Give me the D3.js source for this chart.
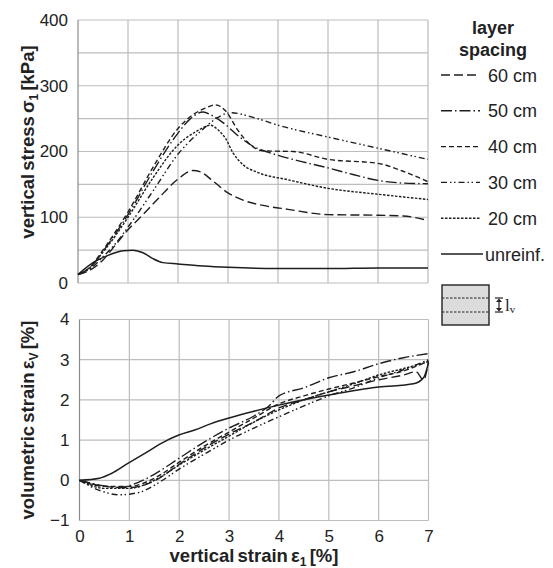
<!doctype html>
<html lang="en">
<head>
  <meta charset="utf-8">
  <title>vertical stress and volumetric strain</title>
  <script src="https://d3js.org/d3.v7.min.js"></script>
  <style>
    body { margin: 0; background: #fff; }
    text { font-family: "Liberation Sans", Arial, sans-serif; fill: #222; }
  </style>
</head>
<body>
<div id="chart"></div>
<script>
  // series names (legend order) and their dash styles
  var series = ['60 cm', '50 cm', '40 cm', '30 cm', '20 cm', 'unreinf.'];
  var dashes = ['9,4', '11,3,1.5,3', '5,3', '6,3,1.5,2.5,1.5,3', '2.5,1.5', null];

  // top panel: vertical strain [%] vs vertical stress [kPa]
  var stress_60 = [[0,13],[0.25,20],[0.5,35],[0.75,58],[1.0,81],[1.3,104],[1.6,128],[2.0,158],[2.3,171],[2.45,169],[2.7,155],[3.0,137],[3.3,126],[3.7,118],[4.2,112],[5,104],[6,103],[6.5,102],[7,95]];
  var stress_50 = [[0,13],[0.25,24],[0.5,48],[0.75,75],[1.0,104],[1.5,170],[2.0,228],[2.25,250],[2.5,260],[2.7,254],[2.9,244],[3.2,224],[3.5,208],[3.8,199],[4.3,188],[5,175],[5.5,165],[6,156],[6.5,152],[7,151]];
  var stress_40 = [[0,13],[0.25,25],[0.5,50],[0.75,78],[1.0,108],[1.5,176],[2.0,235],[2.3,256],[2.55,266],[2.75,271],[2.95,262],[3.2,232],[3.45,210],[3.7,201],[4.3,200],[5,188],[6,182],[6.5,170],[7,154]];
  var stress_30 = [[0,13],[0.25,22],[0.5,40],[0.75,60],[1.0,85],[1.5,140],[2.0,196],[2.5,234],[2.8,252],[3.05,259],[3.5,252],[4,240],[5,222],[6,205],[7,188]];
  var stress_20 = [[0,13],[0.25,24],[0.5,47],[0.75,72],[1.0,100],[1.5,160],[2.0,210],[2.4,232],[2.65,240],[2.8,233],[2.95,220],[3.1,198],[3.3,180],[3.6,168],[4.2,157],[5,144],[6,135],[7,127]];
  var stress_0 = [[0,13],[0.3,31],[0.6,42],[0.9,49],[1.1,50],[1.3,46],[1.5,37],[1.7,31],[2.0,29],[2.5,26],[3,24],[4,22],[5,22],[6,23],[7,23]];

  // bottom panel: vertical strain [%] vs volumetric strain [%]
  var vol_60 = [[0,0],[0.5,-0.15],[1,-0.18],[1.5,-0.02],[2,0.4],[2.5,0.8],[3,1.15],[3.5,1.45],[4,1.8],[4.5,2.0],[5,2.2],[5.5,2.35],[6,2.5],[6.5,2.62],[6.75,2.7],[6.9,2.5],[7,2.95]];
  var vol_50 = [[0,0],[0.5,-0.14],[0.8,-0.18],[1.2,-0.04],[1.5,0.15],[2,0.55],[2.5,0.95],[3,1.3],[3.5,1.6],[3.8,1.85],[4,2.1],[4.5,2.3],[5,2.55],[5.5,2.7],[6,2.9],[6.5,3.05],[7,3.15]];
  var vol_40 = [[0,0],[0.5,-0.15],[1,-0.15],[1.5,0.05],[2,0.45],[2.5,0.85],[3,1.2],[3.5,1.55],[4,1.9],[4.5,2.1],[5,2.27],[5.5,2.42],[6,2.58],[6.5,2.72],[7,2.97]];
  var vol_30 = [[0,0],[0.4,-0.25],[0.8,-0.36],[1.2,-0.3],[1.6,-0.05],[2,0.28],[2.5,0.65],[3,1.0],[3.5,1.3],[4,1.58],[4.5,1.85],[5,2.1],[5.5,2.3],[6,2.55],[6.5,2.75],[7,3.0]];
  var vol_20 = [[0,0],[0.5,-0.2],[1,-0.2],[1.5,0],[2,0.38],[2.5,0.75],[3,1.1],[3.5,1.45],[4,1.75],[4.5,2.0],[5,2.2],[5.5,2.4],[6,2.62],[6.5,2.78],[7,2.95]];
  var vol_0 = [[0,0],[0.4,0.05],[0.64,0.17],[0.97,0.42],[1.31,0.67],[1.64,0.92],[1.98,1.12],[2.31,1.25],[2.64,1.41],[3,1.55],[3.5,1.72],[4,1.87],[5,2.12],[6,2.32],[6.7,2.4],[6.9,2.55],[7,2.92]];

  var stress_data = [stress_60, stress_50, stress_40, stress_30, stress_20, stress_0];
  var vol_data = [vol_60, vol_50, vol_40, vol_30, vol_20, vol_0];

  var stress_ticks = [0, 100, 200, 300, 400];
  var stress_grid = [50, 100, 150, 200, 250, 300, 350, 400];
  var vol_ticks = [-1, 0, 1, 2, 3, 4];
  var strain_ticks = [0, 1, 2, 3, 4, 5, 6, 7];

  var width = 553, height = 568;
  var svg = d3.select('#chart').append('svg')
    .attr('width', width)
    .attr('height', height);

  var x_top = d3.scaleLinear().domain([0, 7]).range([78, 428]);
  var y_top = d3.scaleLinear().domain([0, 400]).range([283, 20]);
  var x_bot = d3.scaleLinear().domain([0, 7]).range([79.5, 428.5]);
  var y_bot = d3.scaleLinear().domain([-1, 4]).range([520.5, 319.5]);

  function draw_panel(x, y, grid_y, ticks_y, data, show_x_labels) {
    var g = svg.append('g');
    // grid
    g.selectAll('.gy').data(grid_y.concat([y.domain()[0]])).enter().append('line')
      .attr('x1', x.range()[0]).attr('x2', x.range()[1])
      .attr('y1', d => y(d)).attr('y2', d => y(d))
      .attr('stroke', '#bdbdbd').attr('stroke-width', 1.2);
    g.selectAll('.gx').data(strain_ticks).enter().append('line')
      .attr('x1', d => x(d)).attr('x2', d => x(d))
      .attr('y1', y.range()[0]).attr('y2', y.range()[1])
      .attr('stroke', d => d == 0 ? '#8c8c8c' : '#bdbdbd').attr('stroke-width', 1.2);

    // tick labels
    var ay = g.append('g')
      .attr('transform', 'translate(' + (x.range()[0] - 7) + ',0)')
      .call(d3.axisLeft(y).tickValues(ticks_y).tickSize(0).tickFormat(d3.format('d')));
    ay.select('.domain').remove();
    ay.selectAll('text').style('font-size', '17px').attr('fill', '#222')
      .attr('font-family', '"Liberation Sans", Arial, sans-serif');

    if (show_x_labels) {
      var ax = g.append('g')
        .attr('transform', 'translate(0,' + (y.range()[0] + 6) + ')')
        .call(d3.axisBottom(x).tickValues(strain_ticks).tickSize(0).tickFormat(d3.format('d')));
      ax.select('.domain').remove();
      ax.selectAll('text').style('font-size', '17px').attr('fill', '#222')
        .attr('font-family', '"Liberation Sans", Arial, sans-serif');
    }

    var line = d3.line().x(d => x(d[0])).y(d => y(d[1])).curve(d3.curveMonotoneX);
    g.selectAll('.curve').data(data).enter().append('path')
      .attr('d', d => line(d))
      .attr('fill', 'none')
      .attr('stroke', '#1e1e1e')
      .attr('stroke-width', (d, i) => i == 5 ? 1.5 : 1.4)
      .attr('stroke-dasharray', (d, i) => dashes[i]);
  }

  draw_panel(x_top, y_top, stress_grid, stress_ticks, stress_data, false);
  draw_panel(x_bot, y_bot, [0, 1, 2, 3, 4], vol_ticks, vol_data, true);

  // axis titles
  function title(sel, main, sub, tail) {
    sel.style('font-size', '18.5px').style('font-weight', 'bold').style('word-spacing', '-2px');
    sel.append('tspan').text(main);
    sel.append('tspan').attr('dy', 4).style('font-size', '12px').text(sub);
    sel.append('tspan').attr('dy', -4).text(' ' + tail);
  }
  title(svg.append('text').attr('transform', 'translate(34,142) rotate(-90)').attr('text-anchor', 'middle'),
    'vertical stress σ', '1', '[kPa]');
  title(svg.append('text').attr('transform', 'translate(34,420) rotate(-90)').attr('text-anchor', 'middle'),
    'volumetric strain ε', 'V', '[%]');
  title(svg.append('text').attr('x', 254).attr('y', 561.5).attr('text-anchor', 'middle'),
    'vertical strain ε', '1', '[%]');

  // legend
  var legend = svg.append('g');
  legend.append('text').attr('x', 493).attr('y', 34).attr('text-anchor', 'middle')
    .style('font-size', '18px').style('font-weight', 'bold').text('layer');
  legend.append('text').attr('x', 493).attr('y', 56).attr('text-anchor', 'middle')
    .style('font-size', '18px').style('font-weight', 'bold').text('spacing');

  var items = legend.selectAll('.item').data(series).enter().append('g')
    .attr('transform', (d, i) => 'translate(0,' + (75 + i * 35.8) + ')');
  items.append('line')
    .attr('x1', 441).attr('x2', (d, i) => i == 5 ? 483 : 480)
    .attr('stroke', '#1e1e1e').attr('stroke-width', (d, i) => i == 5 ? 1.5 : 1.4)
    .attr('stroke-dasharray', (d, i) => dashes[i]);
  items.append('text')
    .attr('x', (d, i) => i == 5 ? 485 : 488).attr('y', 6.5)
    .style('font-size', '18px').text(d => d);

  // layer spacing sketch
  var sk = svg.append('g');
  sk.append('rect').attr('x', 442).attr('y', 285).attr('width', 47).attr('height', 40)
    .attr('fill', '#dcdcdc').attr('stroke', '#222').attr('stroke-width', 1.4);
  sk.selectAll('.ly').data([298, 312]).enter().append('line')
    .attr('x1', 442).attr('x2', 489).attr('y1', d => d).attr('y2', d => d)
    .attr('stroke', '#222').attr('stroke-width', 1).attr('stroke-dasharray', '2.5,1.5');
  sk.selectAll('.cap').data([298, 312]).enter().append('line')
    .attr('x1', 495).attr('x2', 503).attr('y1', d => d).attr('y2', d => d)
    .attr('stroke', '#222').attr('stroke-width', 1.2);
  sk.append('line').attr('x1', 499).attr('x2', 499).attr('y1', 300).attr('y2', 310)
    .attr('stroke', '#222').attr('stroke-width', 1.2);
  sk.append('path').attr('d', 'M496,302 L499,298.5 L502,302 Z M496,308 L499,311.5 L502,308 Z')
    .attr('fill', '#222');
  var lv = sk.append('text').attr('x', 505).attr('y', 311)
    .style('font-family', '"Liberation Serif", "Times New Roman", serif').style('font-size', '17px');
  lv.append('tspan').text('l');
  lv.append('tspan').attr('dy', 2).style('font-size', '11px').text('v');
</script>
</body>
</html>
